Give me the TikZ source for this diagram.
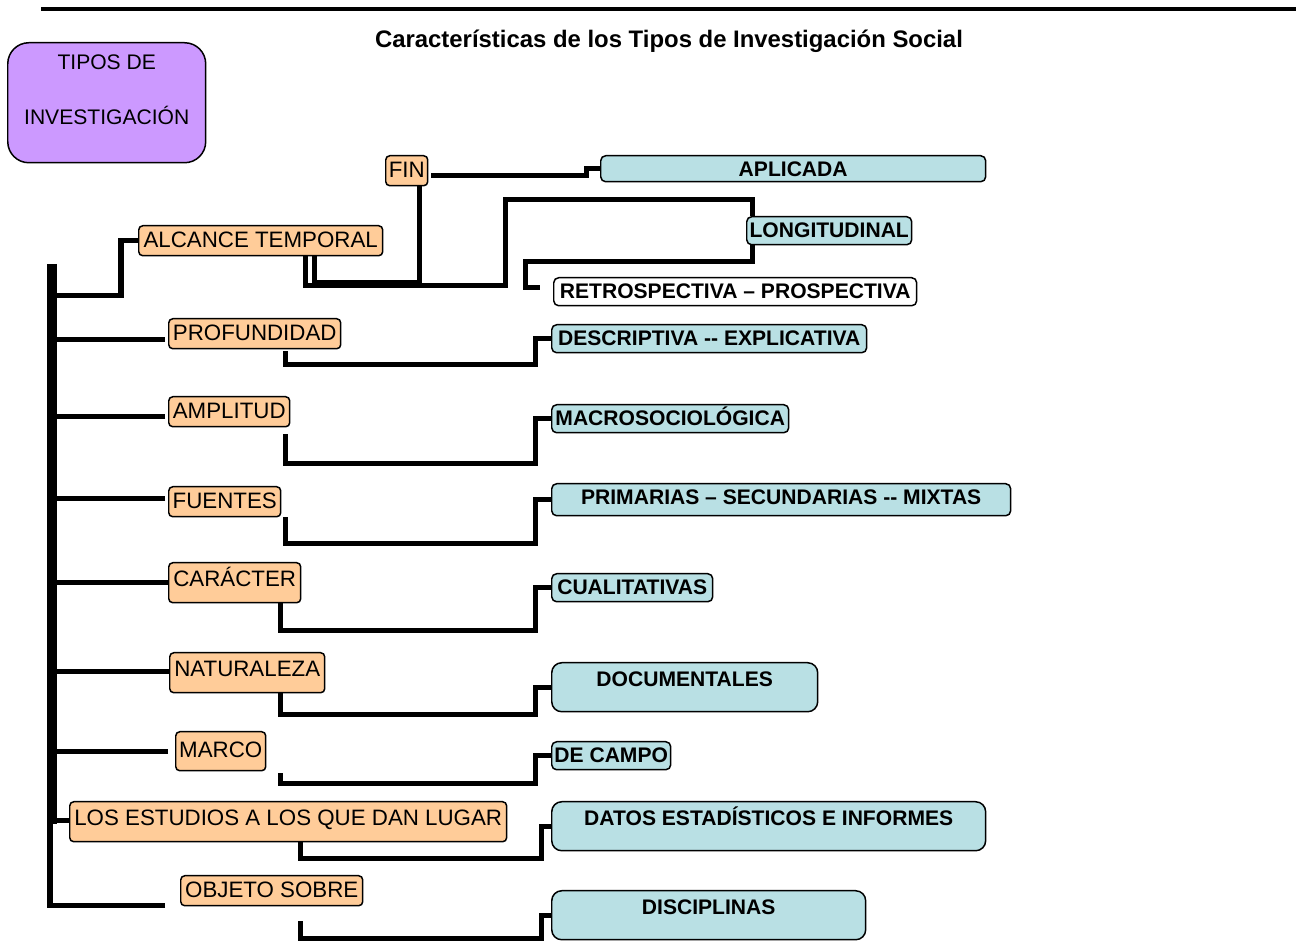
\documentclass[tikz,border=0pt]{standalone}
\usepackage{fontspec}
\setmainfont{Liberation Sans}
\definecolor{catfill}{RGB}{255,204,153}
\definecolor{resfill}{RGB}{185,224,228}
\definecolor{headfill}{RGB}{204,153,255}
\begin{document}
\begin{tikzpicture}[x=0.02cm, y=-0.02cm,
  header/.style={draw, fill=headfill, rounded corners=12pt, line width=0.85pt, inner sep=0pt, anchor=north west, align=center, font=\fontsize{12}{31.2}\selectfont, text height=1.63cm, text depth=0.77cm},
  cat/.style={draw, fill=catfill, rounded corners=2.3pt, line width=0.85pt, inner sep=0pt, anchor=north west, font=\fontsize{12.7}{15}\selectfont, text height=0.44cm, text depth=0.16cm},
  tallcat/.style={cat, text height=0.48cm, text depth=0.32cm},
  res/.style={draw, fill=resfill, rounded corners=2.8pt, line width=0.85pt, inner sep=0pt, anchor=north west, font=\bfseries\fontsize{12}{14}\selectfont, text height=0.42cm, text depth=0.14cm},
  tallres/.style={res, rounded corners=5.7pt, text height=0.47cm, text depth=0.51cm},
  link/.style={line width=2.85pt},
  trunk/.style={line width=5.7pt}]
 \useasboundingbox (0,0) rectangle (1296,945);
 \draw[line width=2pt] (41,9) -- (1296,9);
 \node[anchor=base, font=\bfseries\fontsize{13.6}{16}\selectfont] (title) at (669,48) {Características de los Tipos de Investigación Social};

 \node[header, minimum width=3.96cm] (tipos) at (7,42) {TIPOS DE\\INVESTIGACIÓN};

 % categories
 \node[cat, minimum width=0.84cm] (fin) at (385,155) {FIN};
 \node[cat, minimum width=4.88cm] (alc) at (138,225) {ALCANCE TEMPORAL};
 \node[cat, minimum width=3.44cm] (prof) at (168,318) {PROFUNDIDAD};
 \node[cat, minimum width=2.42cm] (ampl) at (168,396) {AMPLITUD};
 \node[cat, minimum width=2.24cm] (fuen) at (168,486) {FUENTES};
 \node[tallcat, minimum width=2.64cm] (carac) at (168,562) {CARÁCTER};
 \node[tallcat, minimum width=3.10cm] (natu) at (169,652) {NATURALEZA};
 \node[cat, minimum width=1.80cm, text height=0.52cm, text depth=0.26cm] (marco) at (175,731) {MARCO};
 \node[tallcat, minimum width=8.74cm] (estud) at (69,801) {LOS ESTUDIOS A LOS QUE DAN LUGAR};
 \node[cat, minimum width=3.64cm] (obj) at (180,875) {OBJETO SOBRE};

 % types
 \node[res, minimum width=7.70cm, text depth=0.1cm] (apl) at (600,155) {APLICADA};
 \node[res, minimum width=3.30cm] (long) at (746,216) {LONGITUDINAL};
 \node[res, fill=white, minimum width=7.26cm] (retro) at (553,277) {RETROSPECTIVA – PROSPECTIVA};
 \node[res, minimum width=6.30cm] (desc) at (551,324) {DESCRIPTIVA -{}- EXPLICATIVA};
 \node[res, minimum width=4.74cm] (macro) at (551,404) {MACROSOCIOLÓGICA};
 \node[res, minimum width=9.18cm, text depth=0.22cm] (prim) at (551,483) {PRIMARIAS – SECUNDARIAS -{}- MIXTAS};
 \node[res, minimum width=3.22cm] (cual) at (551,573) {CUALITATIVAS};
 \node[tallres, minimum width=5.32cm] (docu) at (551,662) {DOCUMENTALES};
 \node[res, minimum width=2.38cm] (campo) at (551,741) {DE CAMPO};
 \node[tallres, minimum width=8.68cm] (datos) at (551,801) {DATOS ESTADÍSTICOS E INFORMES};
 \node[tallres, minimum width=6.28cm] (disc) at (551,890) {DISCIPLINAS};

 % trunk and branches
 \coordinate (ttop) at (52,264);
 \coordinate (tmid) at (52,824);
 \draw[trunk] (ttop) -- (tmid);
 \draw[link] (alc.west) -| ++(-17,54.5) -- ++(-69,0);
 \draw[link] ([shift={(-3,5.5)}]prof.west) -- ++(-113,0);
 \draw[link] ([shift={(-3,4.5)}]ampl.west) -- ++(-113,0);
 \draw[link] ([shift={(-3,-3)}]fuen.west) -- ++(-113,0);
 \draw[link] (carac.west) -- ++(-116,0);
 \draw[link] ([shift={(0,-1)}]natu.west) -- ++(-117,0);
 \draw[link] ([shift={(-7,0)}]marco.west) -- ++(-116,0);
 \draw[link] ([shift={(0,-1)}]estud.west) -- ++(-17,0);
 \draw[link] ([shift={(-15,14.5)}]obj.west) -- ++(-115,0) -- ++(0,-82);

 % top links
 \draw[link] ([shift={(3,5)}]fin.east) -- ++(155,0) |- (apl.west);
 \draw[link] ([shift={(13,0)}]fin.south) -- ++(0,96) -| ([shift={(54,0)}]alc.south);
 \draw[link] ([shift={(45,0)}]alc.south) |- ++(200,29.5) |- ([shift={(6,-16)}]long.north west) -- ([shift={(6,0)}]long.north west);
 \draw[link] ([shift={(6,0)}]long.south west) |- ++(-226.5,16.5) |- ([shift={(-13,-4)}]retro.west);

 % category to type
 \draw[link] ([shift={(31,2)}]prof.south) |- ++(250,13) |- (desc.west);
 \draw[link] ([shift={(56.5,7)}]ampl.south) |- ++(250,29) |- (macro.west);
 \draw[link] ([shift={(61,0)}]fuen.south) |- ++(250,26) |- (prim.west);
 \draw[link] ([shift={(46,0)}]carac.south) |- ++(255,27) |- (cual.west);
 \draw[link] ([shift={(33.5,0)}]natu.south) |- ++(255,21) |- (docu.west);
 \draw[link] ([shift={(60,2)}]marco.south) |- ++(255,10) |- (campo.west);
 \draw[link] ([shift={(12.5,0)}]estud.south) |- ++(241,16) |- (datos.west);
 \draw[link] ([shift={(29,15)}]obj.south) |- ++(241,17) |- (disc.west);
\end{tikzpicture}
\end{document}
